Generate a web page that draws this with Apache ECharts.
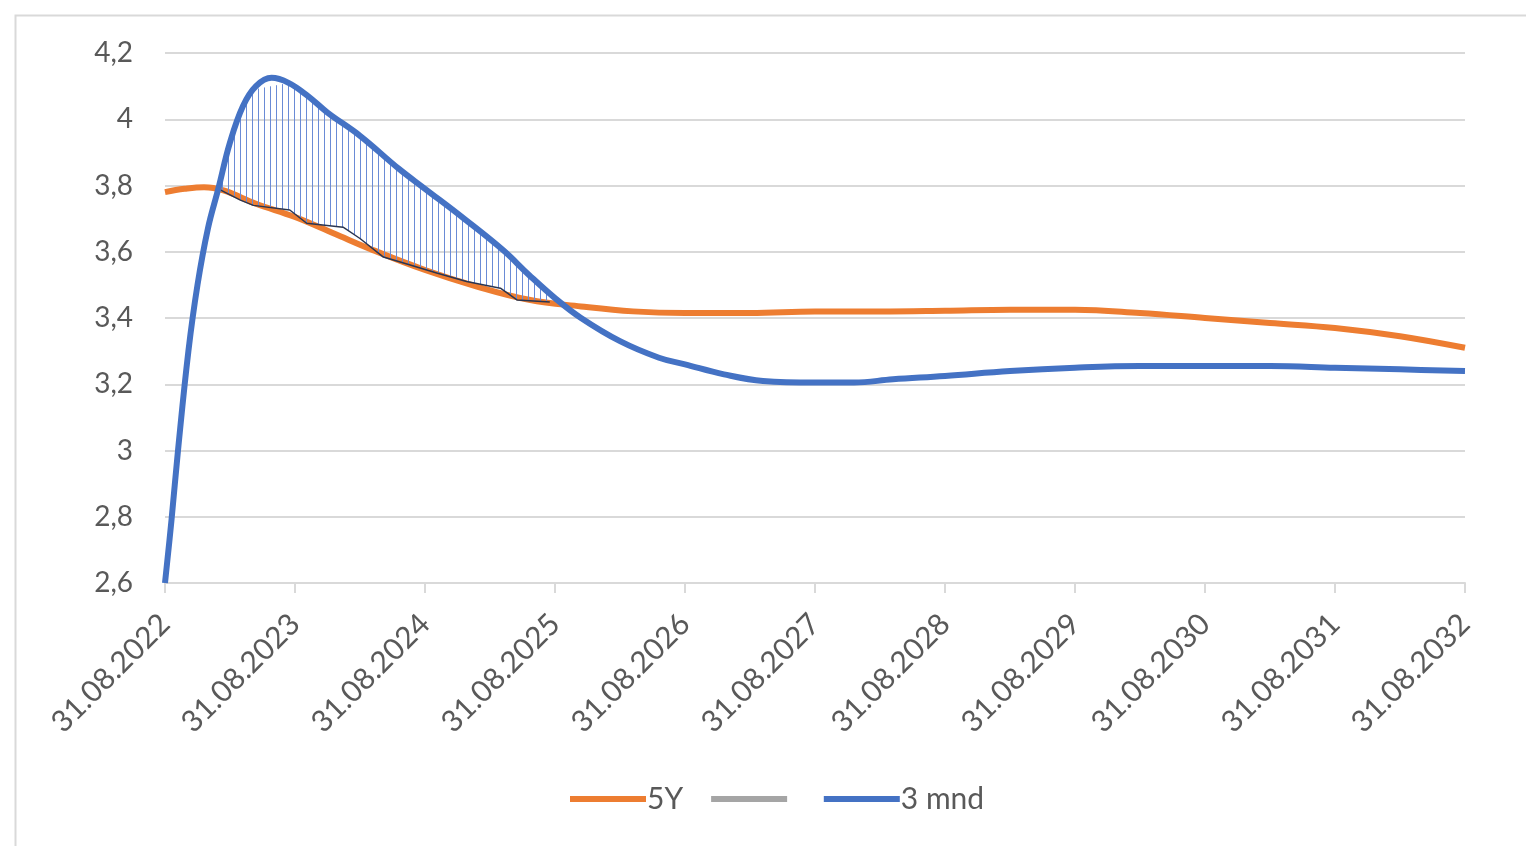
<!DOCTYPE html>
<html>
<head>
<meta charset="utf-8">
<script src="https://cdn.jsdelivr.net/npm/echarts@6/dist/echarts.min.js"></script>
<style>
html,body{margin:0;padding:0;background:#fff;}
#chart{width:1526px;height:846px;}
</style>
</head>
<body>
<div id="chart"></div>
<script>
// x values are years after 31.08.2022
var tickLabels = ['31.08.2022','31.08.2023','31.08.2024','31.08.2025','31.08.2026','31.08.2027','31.08.2028','31.08.2029','31.08.2030','31.08.2031','31.08.2032'];

var blueX = [0,0.05,0.10,0.18,0.25,0.33,0.41,0.50,0.60,0.70,0.82,0.95,1.10,1.25,1.50,1.80,2.00,2.30,2.60,2.80,3.00,3.20,3.50,3.80,4.00,4.30,4.60,5.00,5.30,5.60,6.00,6.50,7.00,7.50,8.00,8.50,9.00,9.50,10.0];
var blueY = [2.60,2.79,3.00,3.30,3.50,3.67,3.79,3.93,4.04,4.10,4.125,4.11,4.07,4.02,3.95,3.85,3.79,3.70,3.605,3.53,3.46,3.40,3.33,3.28,3.26,3.23,3.21,3.205,3.205,3.215,3.225,3.24,3.25,3.255,3.255,3.255,3.25,3.245,3.24];

var orangeX = [0,0.15,0.30,0.45,0.70,1.00,1.30,1.60,2.00,2.40,2.80,3.20,3.60,4.00,4.50,5.00,5.50,6.00,6.50,7.00,7.50,8.00,8.50,9.00,9.50,10.0];
var orangeY = [3.78,3.79,3.795,3.785,3.745,3.705,3.655,3.605,3.545,3.495,3.455,3.435,3.42,3.415,3.415,3.42,3.42,3.422,3.425,3.425,3.415,3.40,3.385,3.37,3.345,3.31];

var hatchX     = [0.41,0.58,0.68,0.96,1.09,1.37,1.50,1.68,1.81,2.09,2.32,2.58,2.71,2.96];
var hatchLower = [3.79,3.756,3.74,3.726,3.686,3.674,3.64,3.584,3.569,3.536,3.51,3.49,3.454,3.448];
var hatchUpper = [3.79,4.03,4.09,4.11,4.07,3.985,3.95,3.89,3.845,3.765,3.695,3.61,3.565,3.47];

function pairs(xs, ys){ return xs.map(function(x,i){ return [x, ys[i]]; }); }

// vertical hatch pattern
var pc = document.createElement('canvas');
pc.width = 6; pc.height = 2;
var pctx = pc.getContext('2d');
pctx.fillStyle = '#6a8bd6';
pctx.fillRect(0,0,1,2);

var FONT = 'Lato';
var chart = echarts.init(document.getElementById('chart'));
chart.setOption({
  backgroundColor: '#fff',
  animation: false,
  graphic: [{
    type: 'rect', left: 13, top: 13, silent: true, z: -10,
    shape: {x: 0, y: 0, width: 1600, height: 900},
    style: {fill: 'none', stroke: '#d9d9d9', lineWidth: 2}
  }],
  grid: {left: 165, right: 61, top: 53, bottom: 263},
  legend: {
    bottom: 32, left: 570, padding: 0,
    itemWidth: 76, itemHeight: 6, itemGap: 28,
    icon: 'rect',
    textStyle: {fontFamily: FONT, fontSize: 30, color: '#595959', padding: [0,0,0,-4]},
    data: ['5Y', ' ', '3 mnd']
  },
  xAxis: {
    type: 'value', min: 0, max: 10, interval: 1,
    axisLine: {show: true, lineStyle: {color: '#d9d9d9', width: 2}},
    axisTick: {show: true, length: 10, lineStyle: {color: '#d9d9d9', width: 2}},
    splitLine: {show: false},
    axisLabel: {
      rotate: 45, margin: 36, fontFamily: FONT, fontSize: 30, color: '#595959',
      formatter: function(v){ return tickLabels[Math.round(v)] || ''; }
    }
  },
  yAxis: {
    type: 'value', min: 2.6, max: 4.2, interval: 0.2,
    axisLine: {show: false}, axisTick: {show: false},
    splitLine: {lineStyle: {color: '#d9d9d9', width: 2}},
    axisLabel: {
      margin: 32, fontFamily: FONT, fontSize: 28, color: '#595959',
      formatter: function(v){ return (Math.round(v*10)/10).toString().replace('.', ','); }
    }
  },
  series: [
    {
      name: 'hatch', type: 'custom', silent: true, z: 3,
      data: pairs(hatchX, hatchUpper),
      encode: {x: 0, y: 1},
      renderItem: function(params, api){
        if (params.dataIndex !== 0) return null;
        var pts = [];
        for (var i = 0; i < hatchX.length; i++) pts.push(api.coord([hatchX[i], hatchUpper[i]]));
        for (var j = hatchX.length - 1; j >= 0; j--) pts.push(api.coord([hatchX[j], hatchLower[j]]));
        return {
          type: 'polygon',
          shape: {points: pts},
          style: {fill: {image: pc, repeat: 'repeat'}, stroke: null}
        };
      }
    },
    {
      name: 'hatchBase', type: 'line', symbol: 'none', silent: true,
      data: pairs(hatchX, hatchLower),
      lineStyle: {color: '#2a3550', width: 1.5}, z: 3
    },
    {
      name: '5Y', type: 'line', symbol: 'none', smooth: 0.4,
      data: pairs(orangeX, orangeY),
      lineStyle: {color: '#ED7D31', width: 6}, itemStyle: {color: '#ED7D31'}, z: 2
    },
    {
      name: ' ', type: 'line', symbol: 'none', data: [],
      lineStyle: {color: '#A5A5A5', width: 6}, itemStyle: {color: '#A5A5A5'}
    },
    {
      name: '3 mnd', type: 'line', symbol: 'none', smooth: 0.4,
      data: pairs(blueX, blueY),
      lineStyle: {color: '#4472C4', width: 6}, itemStyle: {color: '#4472C4'}, z: 4
    }
  ]
});
</script>
</body>
</html>
